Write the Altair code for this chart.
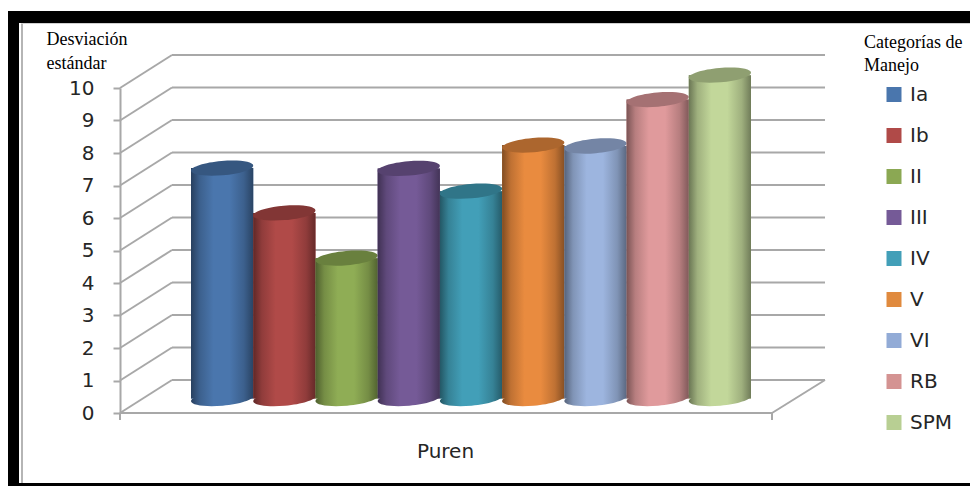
import altair as alt
import pandas as pd

categories = ["Ia", "Ib", "II", "III", "IV", "V", "VI", "RB", "SPM"]
values = [7.09, 5.71, 4.32, 7.08, 6.38, 7.80, 7.77, 9.20, 9.95]
colors = ["#4A76AD", "#B04A48", "#8FAD55", "#755A97", "#429FB8", "#E98B3F", "#9DB5DF", "#E09A9C", "#C2D79A"]
legend_colors = ["#4A76AD", "#B04A48", "#8BA853", "#755A97", "#429FB8", "#E08A3E", "#92ABD6", "#D49392", "#B8CF93"]
ticks = list(range(11))

BASE = 0.445      # cylinders stand mid-way on the floor
WALL = 1.015      # depth of the back wall, in axis units
GRID = "#A8A8A8"
FONT = "DejaVu Sans"
SERIF = "Liberation Serif"


def shade(hex_color, f):
    r, g, b = [int(hex_color[i:i + 2], 16) for i in (1, 3, 5)]
    return "#%02x%02x%02x" % (int(r * f), int(g * f), int(b * f))


def gradient(c):
    return alt.Gradient(
        gradient="linear", x1=0, x2=1, y1=0, y2=0,
        stops=[
            alt.GradientStop(color=shade(c, 0.55), offset=0),
            alt.GradientStop(color=shade(c, 0.82), offset=0.14),
            alt.GradientStop(color=c, offset=0.36),
            alt.GradientStop(color=c, offset=0.62),
            alt.GradientStop(color=shade(c, 0.82), offset=0.85),
            alt.GradientStop(color=shade(c, 0.58), offset=1),
        ],
    )


df = pd.DataFrame({"cat": categories, "val": values})
df["base"] = BASE
df["top"] = df["val"] + BASE
grid = pd.DataFrame({"t": ticks})
grid["back"] = grid["t"] + WALL
floor = pd.DataFrame({"t": [0.0], "back": [WALL]})

YS = alt.Scale(domain=[0, 10], nice=False, zero=False)
YAXIS = alt.Axis(
    values=ticks, grid=False, domainColor=GRID, domainWidth=2, tickColor=GRID, tickWidth=2,
    tickSize=7, labelFont=FONT, labelFontSize=20, labelColor="#262626", labelPadding=19,
    title=["Desviación", "estándar"], titleFont=SERIF, titleFontSize=18, titleFontWeight="normal",
    titleColor="#000000", titleAngle=0, titleAlign="left", titleBaseline="alphabetic",
    titleX=-74, titleY=-44, titleLineHeight=24,
)
X = alt.X(
    "cat:N",
    sort=categories,
    scale=alt.Scale(domain=categories, range=[71, 631], paddingInner=0, paddingOuter=0),
    axis=alt.Axis(
        labels=False, ticks=False, domain=False, title="Puren", titleFont=FONT, titleFontSize=20,
        titleFontWeight="normal", titleColor="#262626", titleX=325, titleY=38,
        titleAlign="center", titleBaseline="middle",
    ),
)


def yq(field):
    return alt.Y(field, scale=YS, axis=YAXIS)


TOTAL_W, TOTAL_H = 962, 478
PL, PT, W, H = 112, 80, 700, 325


def box(x, x2, y, y2, color):
    return (
        alt.Chart(floor)
        .mark_rect(color=color)
        .encode(x=alt.value(x), x2=alt.value(x2), y=alt.value(y), y2=alt.value(y2))
    )


frame = [
    box(-112, TOTAL_W - PL, -77, -65, "#000000"),
    box(-112, -101, -77, TOTAL_H - PT, "#000000"),
    box(-112, TOTAL_W - PL, 395, TOTAL_H - PT, "#000000"),
    box(-99, -97, -65, 395, "#B5B5B5"),
    box(-99, TOTAL_W - PL, -65, -64, "#D0D0D0"),
]

slant = alt.Chart(grid).mark_rule(color=GRID, strokeWidth=2).encode(
    x=alt.value(0), x2=alt.value(52), y=yq("t:Q"), y2="back:Q"
)
back = alt.Chart(grid).mark_rule(color=GRID, strokeWidth=2).encode(
    x=alt.value(52), x2=alt.value(705), y=yq("back:Q")
)
front = alt.Chart(floor).mark_rule(color=GRID, strokeWidth=2).encode(
    x=alt.value(0), x2=alt.value(652), y=yq("t:Q")
)
right = alt.Chart(floor).mark_rule(color=GRID, strokeWidth=2).encode(
    x=alt.value(652), x2=alt.value(705), y=yq("t:Q"), y2="back:Q"
)
tick_r = alt.Chart(floor).mark_rule(color=GRID, strokeWidth=2).encode(
    x=alt.value(652), y=alt.value(H), y2=alt.value(H + 7)
)
tick_l = alt.Chart(floor).mark_rule(color=GRID, strokeWidth=2).encode(
    x=alt.value(0), y=alt.value(H), y2=alt.value(H + 7)
)

# solid columns carry the colour scale and its legend; shaded cylinders go over them
legend_bars = alt.Chart(df).mark_bar(stroke=None).encode(
    x=X,
    y=yq("top:Q"),
    y2="base:Q",
    color=alt.Color(
        "cat:N",
        sort=categories,
        scale=alt.Scale(domain=categories, range=legend_colors),
        legend=alt.Legend(
            title=None, orient="none", legendX=764, legendY=-5, padding=0, symbolType="square",
            symbolSize=225, symbolStrokeWidth=0, labelFont=FONT, labelFontSize=20,
            labelColor="#262626", labelOffset=6, rowPadding=18, clipHeight=23, labelLimit=100,
        ),
    ),
)

ELLIPSE = "M-1,0.087 A1,0.23 -5 1 1 1,-0.087 A1,0.23 -5 1 1 -1,0.087 Z"
SIZE = 3869
cyl = []
for c, col in zip(categories, colors):
    sub = df[df["cat"] == c]
    g = gradient(col)
    cyl.append(
        alt.Chart(sub).mark_point(shape=ELLIPSE, filled=True, size=SIZE, fill=g, opacity=1, strokeWidth=0).encode(
            x=X, y=yq("base:Q")
        )
    )
    cyl.append(
        alt.Chart(sub).mark_bar(fill=g, stroke=None).encode(
            x=X, y=yq("top:Q"), y2="base:Q"
        )
    )
    cyl.append(
        alt.Chart(sub).mark_point(
            shape=ELLIPSE, filled=True, size=SIZE, fill=shade(col, 0.74), opacity=1, strokeWidth=0
        ).encode(x=X, y=yq("top:Q"))
    )

title_lines = []
for txt, ypos in zip(["Categorías de", "Manejo"], [-40, -17]):
    title_lines.append(
        alt.Chart(floor)
        .mark_text(font=SERIF, fontSize=18, color="#000000", align="left", baseline="alphabetic", text=txt)
        .encode(x=alt.value(744), y=alt.value(ypos))
    )

chart = alt.layer(
    *frame, slant, back, front, right, tick_r, tick_l, legend_bars, *cyl, *title_lines
).properties(
    width=W,
    height=H,
    padding={"left": PL, "top": PT, "right": TOTAL_W - PL - W, "bottom": TOTAL_H - PT - H},
    autosize=alt.AutoSizeParams(type="none"),
    background="white",
).configure_view(stroke=None)

chart.save("out.html", embed_options={"renderer": "svg", "actions": False})
